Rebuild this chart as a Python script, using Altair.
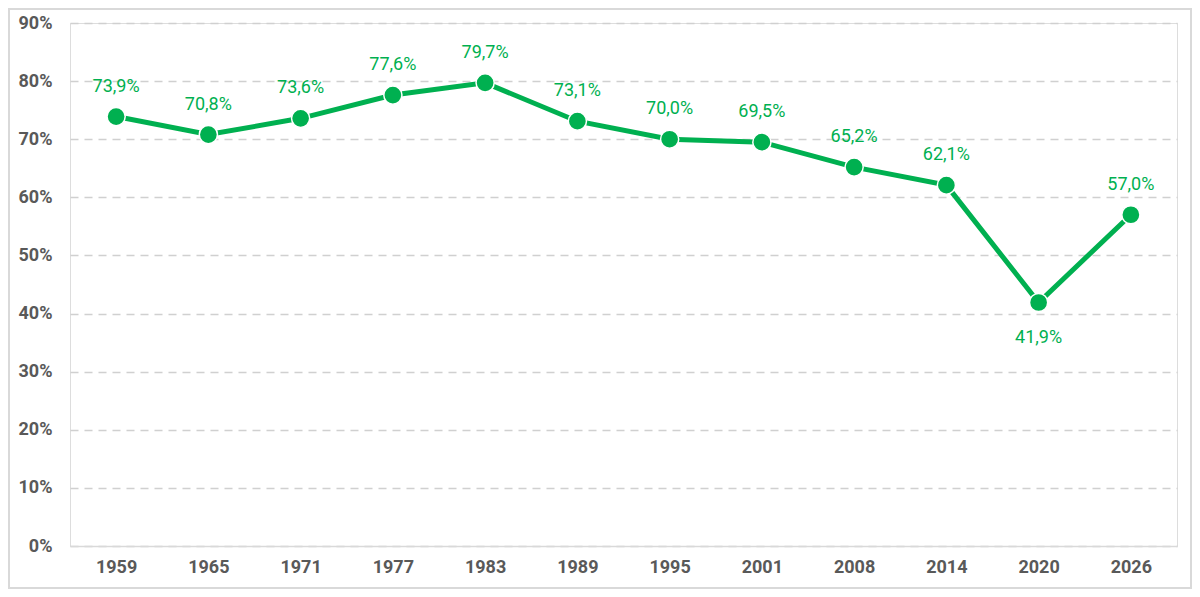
import altair as alt
import pandas as pd

years = ["1959", "1965", "1971", "1977", "1983", "1989", "1995", "2001", "2008", "2014", "2020", "2026"]
values = [73.9, 70.8, 73.6, 77.6, 79.7, 73.1, 70.0, 69.5, 65.2, 62.1, 41.9, 57.0]
below = ["2020"]

df = pd.DataFrame({"year": years, "v": values})
df["pos"] = ["below" if y in below else "above" for y in years]

GREEN = "#00b050"
W, H = 1107, 523

x = alt.X("year:O", sort=years, title=None,
          scale=alt.Scale(paddingInner=0, paddingOuter=0.5),
          axis=alt.Axis(labelAngle=0, labelFont="Roboto", labelFontSize=18, labelFontWeight="bold",
                        labelColor="#595959", ticks=False, labelPadding=12,
                        domain=True, domainColor="#d9d9d9", domainWidth=1.5, grid=False))
y = alt.Y("v:Q", title=None,
          scale=alt.Scale(domain=[0, 90], nice=False, zero=True),
          axis=alt.Axis(values=list(range(0, 100, 10)), labelExpr="datum.value + '%'",
                        labelFont="Roboto", labelFontSize=18, labelFontWeight="bold",
                        labelColor="#595959", ticks=False, labelPadding=18, domain=False,
                        grid=True, gridColor="#d0d0d0", gridDash=[8, 6], gridWidth=1.5))

base = alt.Chart(df)

line = base.mark_line(color=GREEN, strokeWidth=5).encode(x=x, y=y)
pts = base.mark_point(filled=True, fill=GREEN, size=330, stroke="white", strokeWidth=1.5, opacity=1).encode(x=x, y=y)

lab = base.transform_calculate(
    label="replace(format(datum.v, '.1f'), '.', ',') + '%'"
)
txt_above = lab.transform_filter("datum.pos == 'above'").mark_text(
    font="Roboto", fontSize=18, color=GREEN, dy=-30).encode(x=x, y=y, text="label:N")
txt_below = lab.transform_filter("datum.pos == 'below'").mark_text(
    font="Roboto", fontSize=18, color=GREEN, dy=35).encode(x=x, y=y, text="label:N")

border = alt.Chart(pd.DataFrame({"a": [0]})).mark_rect(
    fill=None, stroke="#d9d9d9", strokeWidth=2, clip=False).encode(
    x=alt.value(-61), x2=alt.value(W + 14), y=alt.value(-14), y2=alt.value(H + 42))

chart = alt.layer(border, line, pts, txt_above, txt_below).properties(
    width=W, height=H,
    autosize=alt.AutoSizeParams(type="none"),
    padding={"left": 62, "top": 15, "right": 15, "bottom": 43},
).configure_view(stroke=None).configure(background="white")

chart.save("out.html", embed_options={"renderer": "svg", "actions": False})
